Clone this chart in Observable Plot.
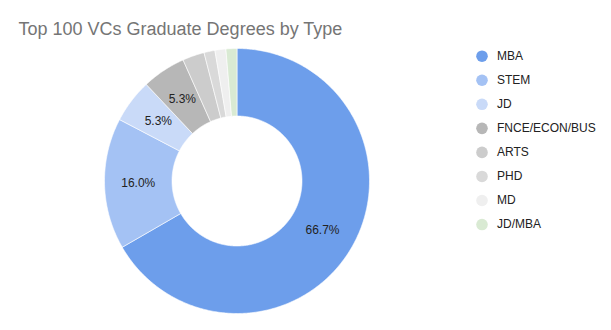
<!DOCTYPE html>
<html>
<head>
<meta charset="utf-8">
<script src="https://cdn.jsdelivr.net/npm/d3@7"></script>
<script src="https://cdn.jsdelivr.net/npm/@observablehq/plot@0.6"></script>
<style>
  html, body { margin: 0; padding: 0; background: #fff; }
  #chart svg { display: block; }
</style>
</head>
<body>
<div id="chart"></div>
<script>
const title = "Top 100 VCs Graduate Degrees by Type";
const categories = ["MBA", "STEM", "JD", "FNCE/ECON/BUS", "ARTS", "PHD", "MD", "JD/MBA"];
const counts = [50, 12, 4, 4, 2, 1, 1, 1];
const colors = ["#6d9eeb", "#a4c2f4", "#c9daf8", "#b7b7b7", "#cccccc", "#d9d9d9", "#efefef", "#d9ead3"];

const W = 611, H = 330;
const cx = 236.5, cy = 180.5, R = 132.5, r0 = 65;

const total = d3.sum(counts);
const arcs = d3.pie().sort(null).value(d => d.count)(
  categories.map((name, i) => ({name, count: counts[i]}))
);

// polygon outline of every slice, in the chart's own coordinate space
const pt = (rad, a) => [cx + rad * Math.sin(a), cy - rad * Math.cos(a)];
const slicePts = [];
for (const a of arcs) {
  const n = Math.max(2, Math.ceil((a.endAngle - a.startAngle) / 0.01));
  const ring = [];
  for (let k = 0; k <= n; k++) ring.push(pt(R, a.startAngle + (a.endAngle - a.startAngle) * k / n));
  for (let k = n; k >= 0; k--) ring.push(pt(r0, a.startAngle + (a.endAngle - a.startAngle) * k / n));
  ring.push(ring[0]);
  for (const [x, y] of ring) slicePts.push({name: a.data.name, x, y});
}

const labels = arcs
  .filter(a => a.data.count / total >= 0.05)
  .map(a => {
    const m = (a.startAngle + a.endAngle) / 2, rm = (R + r0) / 2;
    const [x, y] = pt(rm, m);
    return {x, y, text: (a.data.count / total * 100).toFixed(1) + "%"};
  });

const legend = categories.map((name, i) => ({name, i}));
const legX = 481.5, legY0 = 55.7, legDy = 24.05;

const chart = Plot.plot({
  width: W, height: H,
  margin: 0,
  x: {domain: [0, W], range: [0, W], axis: null},
  y: {domain: [0, H], range: [0, H], axis: null},
  color: {domain: categories, range: colors},
  style: {fontFamily: "'Liberation Sans', Arial, sans-serif", background: "#fff"},
  marks: [
    Plot.line(slicePts, {x: "x", y: "y", z: "name", fill: "name", stroke: "#fff", strokeWidth: 0.6, curve: "linear"}),
    Plot.text(labels, {x: "x", y: "y", text: "text", fontSize: 12, fill: "#222"}),
    Plot.text([title], {x: () => 18, y: () => 28.5, text: d => d, textAnchor: "start", fontSize: 18, fill: "#757575"}),
    Plot.dot(legend, {x: () => legX, y: d => legY0 + d.i * legDy, r: 5.8, fill: "name", stroke: null}),
    Plot.text(legend, {x: () => legX + 15, y: d => legY0 + d.i * legDy, text: "name", textAnchor: "start", fontSize: 12, fill: "#222"})
  ]
});
document.getElementById("chart").append(chart);
</script>
</body>
</html>
